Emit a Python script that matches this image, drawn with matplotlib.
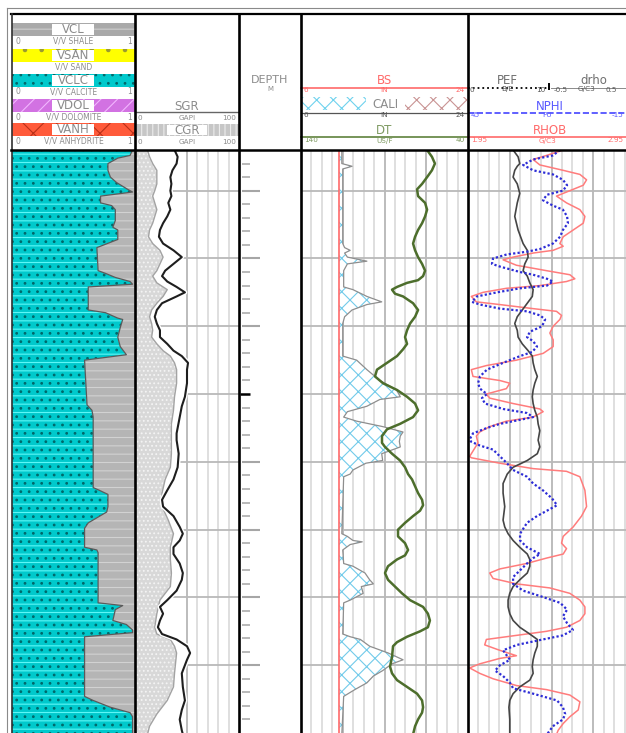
import numpy as np
import matplotlib
matplotlib.use('Agg')
from matplotlib import pyplot as plt
from matplotlib.patches import Rectangle

plt.rcParams['font.family'] = 'DejaVu Sans'
plt.rcParams['hatch.linewidth'] = 0.8

W, H = 626, 733
TOP = 150  # header / data split, px

# ---------------- log data (depth in m) ----------------
vcl_depth = [1202.0, 1202.4, 1202.6, 1203.0, 1203.5, 1204.0, 1204.4, 1204.9, 1205.1, 1205.4,
             1205.9, 1206.1, 1206.4, 1207.2, 1207.7, 1207.9, 1208.6, 1209.2, 1210.9, 1211.1,
             1211.4, 1211.7, 1211.9, 1212.1, 1213.8, 1214.0, 1214.4, 1214.5, 1215.1, 1215.8,
             1216.5, 1217.1, 1217.5, 1220.8, 1221.2, 1221.7, 1226.9, 1227.1, 1227.4, 1228.3,
             1228.7, 1229.5, 1229.9, 1231.3, 1231.5, 1231.7, 1235.4, 1235.6, 1235.9, 1236.7,
             1237.0, 1237.4, 1237.6, 1237.9, 1242.3, 1242.6, 1243.1, 1243.5, 1243.8, 1245.1]
vcl = [0.02, 0.04, 0.14, 0.22, 0.22, 0.20, 0.15, 0.06, 0.02, 0.28,
       0.28, 0.19, 0.16, 0.16, 0.18, 0.14, 0.14, 0.31, 0.30, 0.24,
       0.16, 0.04, 0.02, 0.38, 0.38, 0.24, 0.14, 0.10, 0.12, 0.14,
       0.12, 0.07, 0.41, 0.39, 0.35, 0.34, 0.34, 0.29, 0.22, 0.22,
       0.23, 0.38, 0.41, 0.41, 0.31, 0.30, 0.30, 0.10, 0.16, 0.18,
       0.07, 0.02, 0.02, 0.41, 0.41, 0.34, 0.20, 0.04, 0.02, 0.02]

sgr_depth = [1202.0, 1202.5, 1203.0, 1203.5, 1204.0, 1204.5, 1205.0, 1205.4, 1205.9, 1206.4,
             1206.9, 1207.4, 1207.9, 1208.4, 1208.9, 1209.4, 1209.9, 1210.4, 1210.9, 1211.3,
             1211.7, 1212.1, 1212.5, 1212.8, 1213.3, 1213.8, 1214.3, 1214.8, 1215.3, 1215.8,
             1216.3, 1216.8, 1217.2, 1217.7, 1218.2, 1219.2, 1220.2, 1220.9, 1221.7, 1222.9,
             1223.4, 1224.4, 1225.4, 1226.3, 1227.1, 1227.8, 1228.3, 1229.0, 1229.8, 1230.3,
             1230.8, 1231.3, 1231.8, 1232.5, 1233.2, 1233.7, 1234.5, 1235.2, 1235.7, 1236.2,
             1236.7, 1237.2, 1237.7, 1238.1, 1238.6, 1239.1, 1239.6, 1240.6, 1241.6, 1242.6,
             1243.3, 1244.0, 1244.8, 1245.1]
sgr = [38, 41, 40, 36, 34, 35, 34, 35, 32, 34,
       31, 27, 24, 23, 27, 37, 45, 37, 29, 26,
       31, 40, 48, 40, 26, 21, 19, 21, 24, 24,
       31, 37, 45, 51, 50, 50, 48, 45, 43, 40,
       40, 42, 41, 37, 31, 26, 27, 37, 43, 46,
       43, 37, 37, 43, 46, 45, 40, 31, 24, 27,
       24, 22, 26, 40, 50, 53, 50, 45, 46, 48,
       45, 43, 45, 46]

cgr_depth = [1202.0, 1202.5, 1203.0, 1203.5, 1204.0, 1204.5, 1205.0, 1205.4, 1205.9, 1206.4,
             1206.9, 1207.4, 1207.9, 1208.4, 1208.9, 1209.4, 1209.9, 1210.4, 1210.9, 1211.3,
             1211.8, 1212.3, 1212.8, 1213.3, 1213.8, 1214.3, 1214.8, 1215.3, 1215.8, 1216.3,
             1216.8, 1217.2, 1217.7, 1218.2, 1219.2, 1220.2, 1221.2, 1222.2, 1223.2, 1224.4,
             1225.4, 1226.3, 1227.3, 1228.3, 1229.3, 1230.3, 1231.3, 1232.2, 1233.2, 1234.2,
             1235.2, 1236.2, 1237.2, 1237.7, 1238.1, 1238.6, 1239.1, 1240.6, 1241.6, 1242.6,
             1243.6, 1244.5, 1245.1]
cgr = [12, 14, 17, 21, 21, 21, 19, 17, 19, 21,
       19, 17, 14, 13, 17, 24, 27, 24, 21, 17,
       21, 31, 27, 21, 16, 14, 16, 17, 16, 21,
       27, 34, 38, 40, 40, 38, 37, 35, 35, 35,
       34, 29, 26, 26, 32, 37, 34, 34, 35, 34,
       24, 21, 19, 21, 34, 38, 40, 38, 37, 31,
       21, 14, 12]

bs_size = 10.1
cali_depth = [1202.0, 1203.0, 1203.2, 1203.4, 1208.9, 1209.2, 1209.4, 1209.6, 1209.9, 1210.2,
              1210.4, 1210.9, 1212.1, 1212.3, 1212.8, 1213.2, 1213.4, 1213.8, 1214.3, 1214.8,
              1217.2, 1217.5, 1218.2, 1219.0, 1219.7, 1220.2, 1220.4, 1220.9, 1221.3, 1221.7,
              1222.0, 1222.4, 1222.8, 1223.1, 1223.5, 1223.9, 1224.4, 1224.9, 1225.1, 1225.6,
              1225.9, 1226.1, 1230.3, 1230.5, 1230.8, 1230.9, 1231.1, 1231.5, 1232.5, 1232.7,
              1233.2, 1233.7, 1234.0, 1234.2, 1234.7, 1235.2, 1235.4, 1237.7, 1237.9, 1238.1,
              1238.6, 1239.1, 1239.6, 1239.9, 1240.4, 1240.8, 1241.3, 1241.8, 1242.3, 1245.1]
cali = [10.4, 10.4, 11.5, 10.5, 10.5, 10.7, 11.3, 10.7, 11.0, 13.1,
        11.0, 10.6, 10.6, 11.6, 13.1, 14.7, 13.1, 11.5, 10.7, 10.5,
        10.5, 12.0, 13.1, 14.5, 16.3, 16.7, 14.5, 13.1, 11.0, 10.6,
        12.0, 14.8, 17.0, 16.7, 16.6, 16.7, 14.7, 14.8, 13.0, 11.6,
        11.3, 10.6, 10.4, 11.0, 11.6, 12.6, 11.3, 10.5, 10.6, 11.6,
        12.9, 13.4, 13.8, 12.5, 12.7, 11.3, 10.6, 10.5, 11.3, 12.4,
        13.4, 15.4, 17.0, 15.8, 14.8, 13.8, 13.1, 11.8, 10.6, 10.4]

dt_depth = [1202.0, 1202.5, 1203.0, 1203.5, 1204.0, 1204.5, 1204.9, 1205.4, 1205.9, 1206.4,
            1206.9, 1207.4, 1207.9, 1208.4, 1208.9, 1209.4, 1209.9, 1210.4, 1210.9, 1211.3,
            1211.6, 1211.8, 1212.1, 1212.3, 1212.6, 1212.8, 1213.3, 1213.8, 1214.3, 1214.8,
            1215.3, 1215.8, 1216.3, 1216.7, 1217.2, 1217.7, 1218.2, 1218.7, 1219.2, 1219.7,
            1220.2, 1220.7, 1221.2, 1221.7, 1222.2, 1222.6, 1223.1, 1223.6, 1223.9, 1224.4,
            1224.9, 1225.4, 1225.9, 1226.3, 1226.8, 1227.3, 1227.8, 1228.2, 1228.6, 1229.0,
            1229.5, 1230.0, 1230.5, 1231.0, 1231.5, 1231.9, 1232.2, 1232.7, 1233.2, 1233.7,
            1234.2, 1234.7, 1235.2, 1235.7, 1236.2, 1236.7, 1237.2, 1237.5, 1237.9, 1238.3,
            1238.6, 1239.4, 1240.1, 1240.6, 1241.1, 1241.6, 1242.1, 1242.6, 1243.1, 1243.5,
            1244.0, 1244.5, 1245.1]
dt = [64.5, 61.6, 59.8, 61.6, 64.5, 67.5, 70.5, 69.9, 65.7, 64.5,
      65.7, 67.5, 69.9, 71.7, 72.9, 71.7, 69.9, 67.5, 65.7, 66.9,
      69.9, 76.5, 82.5, 85.5, 83.7, 78.9, 72.9, 69.9, 71.7, 74.7,
      76.5, 77.7, 76.5, 78.9, 82.5, 88.5, 94.5, 95.7, 90.9, 82.5,
      76.5, 71.7, 69.9, 72.9, 80.7, 88.5, 91.5, 91.5, 89.7, 85.5,
      80.7, 77.7, 75.9, 73.5, 71.7, 69.9, 67.5, 66.9, 68.7, 72.9,
      77.7, 81.9, 81.9, 77.7, 75.9, 77.7, 82.5, 87.9, 89.7, 87.9,
      83.7, 79.5, 74.7, 66.9, 64.0, 62.8, 64.0, 68.7, 76.5, 82.5,
      84.9, 85.5, 86.7, 85.5, 82.5, 76.5, 70.5, 67.5, 66.9, 67.5,
      69.9, 71.7, 72.9]

pef_depth = [1202.0, 1202.5, 1203.0, 1203.2, 1203.5, 1204.0, 1204.5, 1205.2, 1205.9, 1206.9,
             1207.9, 1208.9, 1209.4, 1209.9, 1210.4, 1210.9, 1211.3, 1211.8, 1212.3, 1212.8,
             1213.3, 1213.8, 1214.3, 1214.8, 1215.3, 1215.8, 1216.3, 1216.8, 1217.2, 1217.7,
             1218.2, 1218.7, 1219.2, 1219.7, 1220.2, 1220.7, 1221.2, 1221.7, 1222.2, 1222.7,
             1223.4, 1223.9, 1224.4, 1224.9, 1225.4, 1225.9, 1226.6, 1227.3, 1228.3, 1229.3,
             1229.8, 1230.3, 1230.8, 1231.3, 1231.8, 1232.2, 1232.7, 1233.2, 1233.7, 1234.2,
             1234.7, 1235.2, 1235.7, 1236.2, 1236.7, 1237.2, 1237.7, 1238.1, 1238.6, 1239.1,
             1239.6, 1240.1, 1240.6, 1241.1, 1241.6, 1242.1, 1242.6, 1243.1, 1244.0, 1245.1]
pef = [5.4, 6.0, 6.2, 5.9, 5.6, 5.4, 5.9, 6.2, 5.9, 5.6,
       6.0, 6.6, 7.1, 7.2, 6.8, 6.6, 7.1, 7.4, 7.8, 7.7,
       7.1, 6.5, 5.9, 5.6, 5.9, 6.0, 6.5, 7.2, 7.7, 7.8,
       8.0, 8.3, 8.0, 7.8, 7.7, 7.8, 8.0, 8.3, 8.4, 8.6,
       8.4, 8.6, 8.3, 7.1, 5.4, 4.7, 4.2, 4.2, 4.4, 4.2,
       4.4, 4.8, 5.4, 6.2, 7.1, 7.4, 7.4, 7.1, 6.2, 5.4,
       5.0, 4.8, 4.8, 5.0, 5.4, 6.2, 7.4, 8.3, 8.3, 8.0,
       7.8, 7.7, 7.8, 7.4, 6.2, 5.4, 5.0, 4.9, 5.0, 5.0]

nphi_depth = [1202.0, 1202.4, 1202.7, 1203.1, 1203.5, 1203.8, 1204.2, 1204.6, 1205.0, 1205.3,
              1205.7, 1206.1, 1206.4, 1206.9, 1207.4, 1207.9, 1208.4, 1208.9, 1209.3, 1209.5,
              1209.7, 1210.0, 1210.4, 1210.6, 1211.0, 1211.2, 1211.5, 1211.7, 1212.0, 1212.2,
              1212.5, 1212.8, 1213.2, 1213.4, 1213.7, 1213.9, 1214.2, 1214.5, 1215.0, 1215.4,
              1215.8, 1216.1, 1216.5, 1216.9, 1217.2, 1217.7, 1218.2, 1218.7, 1219.2, 1219.6,
              1220.0, 1220.3, 1220.7, 1221.1, 1221.4, 1221.7, 1221.9, 1222.2, 1222.5, 1222.9,
              1223.3, 1223.5, 1223.8, 1224.1, 1224.6, 1225.1, 1225.6, 1226.1, 1226.6, 1227.1,
              1227.7, 1228.2, 1228.6, 1229.0, 1229.5, 1230.3, 1230.8, 1231.3, 1231.8, 1232.1,
              1232.5, 1233.0, 1233.5, 1234.0, 1234.5, 1234.9, 1235.4, 1235.9, 1236.4, 1236.9,
              1237.4, 1237.8, 1238.1, 1238.5, 1238.9, 1239.3, 1239.6, 1240.0, 1240.4, 1240.8,
              1241.3, 1241.7, 1242.1, 1242.6, 1243.1, 1243.6, 1244.0, 1244.5, 1245.1]
nphi = [11.9, 14.5, 21.6, 25.2, 21.6, 14.5, 10.9, 9.4, 10.9, 16.6,
        18.1, 14.5, 10.9, 9.4, 9.1, 10.9, 11.9, 14.5, 19.1, 23.8,
        31.0, 36.0, 36.4, 33.5, 26.3, 21.6, 16.6, 14.5, 16.6, 26.3,
        34.6, 41.8, 43.6, 40.7, 33.5, 23.8, 19.1, 17.3, 18.4, 22.7,
        23.8, 21.6, 20.2, 22.0, 26.3, 32.4, 38.2, 40.7, 41.4, 40.7,
        38.2, 40.0, 38.9, 32.4, 23.8, 21.6, 26.3, 33.5, 38.2, 43.2,
        44.3, 44.0, 40.7, 36.0, 33.5, 31.0, 28.8, 23.8, 21.6, 18.1,
        14.8, 13.0, 16.6, 20.2, 23.8, 26.3, 26.3, 23.8, 19.1, 21.6,
        23.8, 26.3, 28.8, 28.8, 25.2, 19.1, 11.9, 9.4, 10.9, 9.4,
        7.3, 10.9, 18.1, 27.4, 32.4, 31.0, 29.9, 33.5, 35.3, 32.4,
        29.9, 28.8, 21.6, 13.0, 10.9, 10.1, 10.9, 14.5, 16.6]

rhob_depth = [1202.0, 1202.4, 1202.7, 1203.1, 1203.5, 1203.8, 1204.2, 1204.6, 1205.1, 1205.4,
              1205.9, 1206.4, 1206.9, 1207.4, 1207.9, 1208.4, 1208.9, 1209.1, 1209.4, 1209.6,
              1209.9, 1210.1, 1210.5, 1210.9, 1211.2, 1211.5, 1211.7, 1212.0, 1212.2, 1212.5,
              1212.8, 1213.2, 1213.4, 1213.7, 1213.9, 1214.2, 1214.5, 1215.0, 1215.5, 1216.0,
              1216.5, 1217.0, 1217.5, 1217.9, 1218.2, 1218.7, 1219.0, 1219.2, 1219.6, 1220.0,
              1220.3, 1220.7, 1221.1, 1221.3, 1221.7, 1222.0, 1222.4, 1222.8, 1223.1, 1223.6,
              1224.6, 1224.7, 1225.1, 1225.5, 1225.7, 1226.1, 1227.1, 1228.3, 1229.0, 1229.8,
              1230.5, 1231.0, 1231.4, 1231.8, 1232.1, 1232.5, 1232.9, 1233.2, 1233.6, 1234.0,
              1234.3, 1234.7, 1235.2, 1235.7, 1236.2, 1236.7, 1237.2, 1237.5, 1237.9, 1238.1,
              1238.5, 1238.9, 1239.3, 1239.5, 1239.9, 1240.2, 1240.6, 1241.0, 1241.5, 1241.8,
              1242.2, 1242.7, 1243.3, 1243.8, 1244.3, 1244.8, 1245.1]
rhob = [2.52, 2.42, 2.34, 2.38, 2.52, 2.62, 2.66, 2.64, 2.54, 2.48,
        2.54, 2.62, 2.65, 2.64, 2.58, 2.52, 2.50, 2.52, 2.46, 2.34,
        2.22, 2.16, 2.24, 2.42, 2.56, 2.59, 2.54, 2.38, 2.18, 2.04,
        1.97, 2.00, 2.14, 2.34, 2.48, 2.51, 2.50, 2.46, 2.44, 2.46,
        2.46, 2.40, 2.24, 2.06, 1.97, 1.98, 2.14, 2.20, 2.18, 2.06,
        2.08, 2.22, 2.38, 2.40, 2.34, 2.18, 2.08, 2.02, 2.00, 2.01,
        1.96, 1.97, 2.14, 2.34, 2.54, 2.62, 2.65, 2.66, 2.63, 2.58,
        2.52, 2.51, 2.54, 2.52, 2.42, 2.30, 2.14, 2.08, 2.10, 2.24,
        2.44, 2.56, 2.62, 2.65, 2.65, 2.62, 2.54, 2.42, 2.18, 2.06,
        2.05, 2.14, 2.24, 2.14, 2.02, 1.96, 2.02, 2.10, 2.24, 2.42,
        2.56, 2.62, 2.61, 2.56, 2.52, 2.49, 2.48]

top_depth, base_depth = 1202.0, 1245.0
major_depths = np.arange(1205, 1245, 5)
minor_depths = [d for d in range(1203, 1245) if d % 5]
marker_depth = 1220

# ---------------- figure ----------------
fig = plt.figure(figsize=(W / 100, H / 100), dpi=100)


def track(x0, x1):
    ax = fig.add_axes([x0 / W, 0, (x1 - x0) / W, (H - TOP) / H])
    ax.set_ylim(base_depth, top_depth)
    ax.set_axis_off()
    return ax


def twin(ax, lo, hi):
    t = ax.twiny()
    t.set_xlim(lo, hi)
    t.set_ylim(base_depth, top_depth)
    t.set_axis_off()
    return t


def log_grid(ax, ndiv=16, dark_every=4):
    ax.set_xlim(0, ndiv)
    for i in range(1, ndiv):
        c = '#a9a9a9' if i % dark_every == 0 else '#d6d6d6'
        ax.axvline(i, color=c, lw=1.1, zorder=1)
    for d in major_depths:
        ax.axhline(d, color='#b9b9b9', lw=1.3, zorder=1)


# track 1 - lithology
ax1 = track(12, 135)
ax1.set_xlim(0, 1)
edge = 1 - np.array(vcl)
ax1.fill_betweenx(vcl_depth, 0, edge, facecolor='#00c9cc', edgecolor='#5ef6f6', hatch='--', lw=0)
ax1.fill_betweenx(vcl_depth, 0, edge, facecolor='none', edgecolor='#00686a', hatch='..', lw=0)
ax1.fill_betweenx(vcl_depth, edge, 1, facecolor='#b5b5b5', edgecolor='#d2d2d2', hatch='--', lw=0)
ax1.plot(edge, vcl_depth, color='#5a5a5a', lw=0.9)

# track 2 - gamma ray
ax2 = track(135, 239)
ax2.set_xlim(0, 100)
for v in range(50, 100, 10):
    ax2.axvline(v, color='#a9a9a9' if v == 50 else '#d6d6d6', lw=1.1, zorder=1)
for d in major_depths:
    ax2.axhline(d, color='#b9b9b9', lw=1.3, zorder=1)
ax2.fill_betweenx(sgr_depth, 0, sgr, color='white', lw=0, zorder=2)
ax2.fill_betweenx(cgr_depth, 0, cgr, facecolor='#d8d8d8', edgecolor='#f4f4f4', hatch='....', lw=0, zorder=3)
ax2.plot(cgr, cgr_depth, color='#a3a3a3', lw=1.0, zorder=3.5)
ax2.plot(sgr, sgr_depth, color='white', lw=3.5, zorder=4)
ax2.plot(sgr, sgr_depth, color='#1e1e1e', lw=1.5, zorder=5)

# track 3 - depth
ax3 = track(239, 301)
ax3.set_xlim(0, 62)
ax3.hlines(minor_depths, 2.7, 11, color='#a6a6a6', lw=1.1)
ax3.hlines([d for d in major_depths if d != marker_depth], 2.7, 21, color='#a6a6a6', lw=1.5)
ax3.hlines([marker_depth], 1.0, 11, color='black', lw=1.8)

# track 4 - BS / CALI / DT
ax4 = track(301, 468)
log_grid(ax4)
cal = twin(ax4, 6, 24)
cali_arr = np.array(cali)
cal.fill_betweenx(cali_depth, bs_size, cali_arr, where=cali_arr > bs_size, interpolate=True,
                  facecolor='white', edgecolor='#72cbea', hatch='xx', lw=0)
cal.plot(cali, cali_depth, color='#8e8e8e', lw=0.9)
cal.axvline(bs_size, color='#ff6a6a', lw=1.2)
dtx = twin(ax4, 140, 40)
dtx.plot(dt, dt_depth, color='#4d6e2c', lw=1.8)

# track 5 - PEF / RHOB / NPHI
ax5 = track(468, 635)
log_grid(ax5)
rh = twin(ax5, 1.95, 2.95)
rh.plot(rhob, rhob_depth, color='#ff7c7c', lw=1.1)
pe = twin(ax5, 0, 20)  # PEF 0-10 spans the left half
pe.plot(pef, pef_depth, color='#454545', lw=1.2)
nph = twin(ax5, 45, -15)
nph.plot(nphi, nphi_depth, color='#2c2cd6', lw=1.6, ls=(0, (1, 1)))

# ---------------- headers and frame (pixel coords) ----------------
ov = fig.add_axes([0, 0, 1, 1])
ov.set_xlim(0, W)
ov.set_ylim(H, 0)
ov.set_axis_off()
ov.set_zorder(10)

GREY = '#8c8c8c'


def label(x, y, s, color=GREY, size=8.5, ha='center'):
    ov.text(x, y, s, ha=ha, va='center', color=color, fontsize=size)


def scale_row(x0, x1, y, left, mid, right, color=GREY, size=5.2):
    if left:
        label(x0 + 3, y, left, color, size, 'left')
    label((x0 + x1) / 2, y, mid, color, size)
    if right:
        label(x1 - 3, y, right, color, size, 'right')


litho_rows = [('VCL', 'V/V SHALE', '#a9a9a9', '#cdcdcd', '--', True),
              ('VSAN', 'V/V SAND', '#ffff00', '#9a9a30', '.', False),
              ('VCLC', 'V/V CALCITE', '#00c9cc', '#00686a', '..', True),
              ('VDOL', 'V/V DOLOMITE', '#d272e2', '#f2b6ff', '//', True),
              ('VANH', 'V/V ANHYDRITE', '#ff5a3a', '#b83018', 'x', True)]
row_tops = [23, 49, 74, 99, 123]
for (name, unit, fc, hc, hatch, ends), y0 in zip(litho_rows, row_tops):
    ov.add_patch(Rectangle((12, y0), 123, 12.5, facecolor=fc, edgecolor=hc, hatch=hatch, lw=0))
    ov.add_patch(Rectangle((52, y0 + 1), 42, 10.5, facecolor='white', lw=0))
    label(73, y0 + 6.5, name)
    scale_row(12, 135, y0 + 18, '0' if ends else '', unit, '1' if ends else '', size=5.5)

# GR header
label(187, 106, 'SGR')
ov.plot([135, 239], [112, 112], color='#666666', lw=1.0)
scale_row(135, 239, 117.5, '0', 'GAPI', '100')
ov.add_patch(Rectangle((135, 124), 104, 11.5, facecolor='#c6c6c6', edgecolor='#ececec', hatch='|||', lw=0))
ov.add_patch(Rectangle((167, 125), 40, 9.5, facecolor='white', lw=0))
label(187, 130, 'CGR')
scale_row(135, 239, 141.5, '0', 'GAPI', '100')

# depth header
label(270, 80, 'DEPTH', size=8)
label(270, 89, 'M', size=5)

# track 4 header
RED = '#ff6a6a'
label(384, 81, 'BS', RED)
ov.plot([301, 468], [88, 88], color=RED, lw=1.2)
scale_row(301, 468, 89.5, '6', 'IN', '24', RED)
ov.add_patch(Rectangle((302, 96.5), 64, 13.5, facecolor='white', edgecolor='#6fd2ee', hatch='xx', lw=0))
ov.add_patch(Rectangle((405, 96.5), 62, 13.5, facecolor='white', edgecolor='#c99494', hatch='xx', lw=0))
label(385, 104, 'CALI')
ov.plot([301, 468], [113, 113], color='#555555', lw=0.9)
scale_row(301, 468, 115, '6', 'IN', '24', '#555555')
GREEN = '#7f9a62'
label(384, 131, 'DT', GREEN)
ov.plot([301, 468], [137, 137], color='#6b8b4b', lw=1.3)
scale_row(301, 468, 140.5, '140', 'US/F', '40', GREEN)

# track 5 header
label(507, 80, 'PEF', '#707070')
label(594, 80, 'drho', '#707070')
ov.plot([468, 549], [88, 88], color='black', lw=1.3, ls=':')
ov.plot([549, 549], [84, 89], color='black', lw=1.4)
ov.plot([551, 626], [88, 88], color='#8a8a8a', lw=0.7)
for x, s in [(472, '0'), (507, 'B/E'), (541, '10'), (561, '-0.5'), (586, 'G/C3'), (611, '0.5')]:
    label(x, 89.5, s, '#555555', 5.2)
BLUE = '#5a5aff'
label(550, 106, 'NPHI', BLUE)
ov.plot([468, 635], [113, 113], color='#4444ff', lw=1.2, ls='--')
scale_row(468, 627, 115, '45', 'PU', '-15', BLUE)
label(550, 131, 'RHOB', RED)
ov.plot([468, 635], [137, 137], color=RED, lw=1.2)
scale_row(468, 627, 140.5, '1.95', 'G/C3', '2.95', RED)

# frame and track borders
ov.plot([7, 626], [7.5, 7.5], color='#8a8a8a', lw=0.8)
ov.plot([7.3, 7.3], [7.5, H], color='#8a8a8a', lw=0.8)
ov.plot([11, 626], [13.5, 13.5], color='black', lw=1.6)
ov.plot([11.5, 11.5], [13.5, H], color='#303030', lw=1.2)
ov.plot([11, 626], [150, 150], color='black', lw=1.8)
for x in [135, 239, 301, 468]:
    ov.plot([x, x], [13.5, H], color='black', lw=1.9)

fig.savefig('out.png', dpi=100)
